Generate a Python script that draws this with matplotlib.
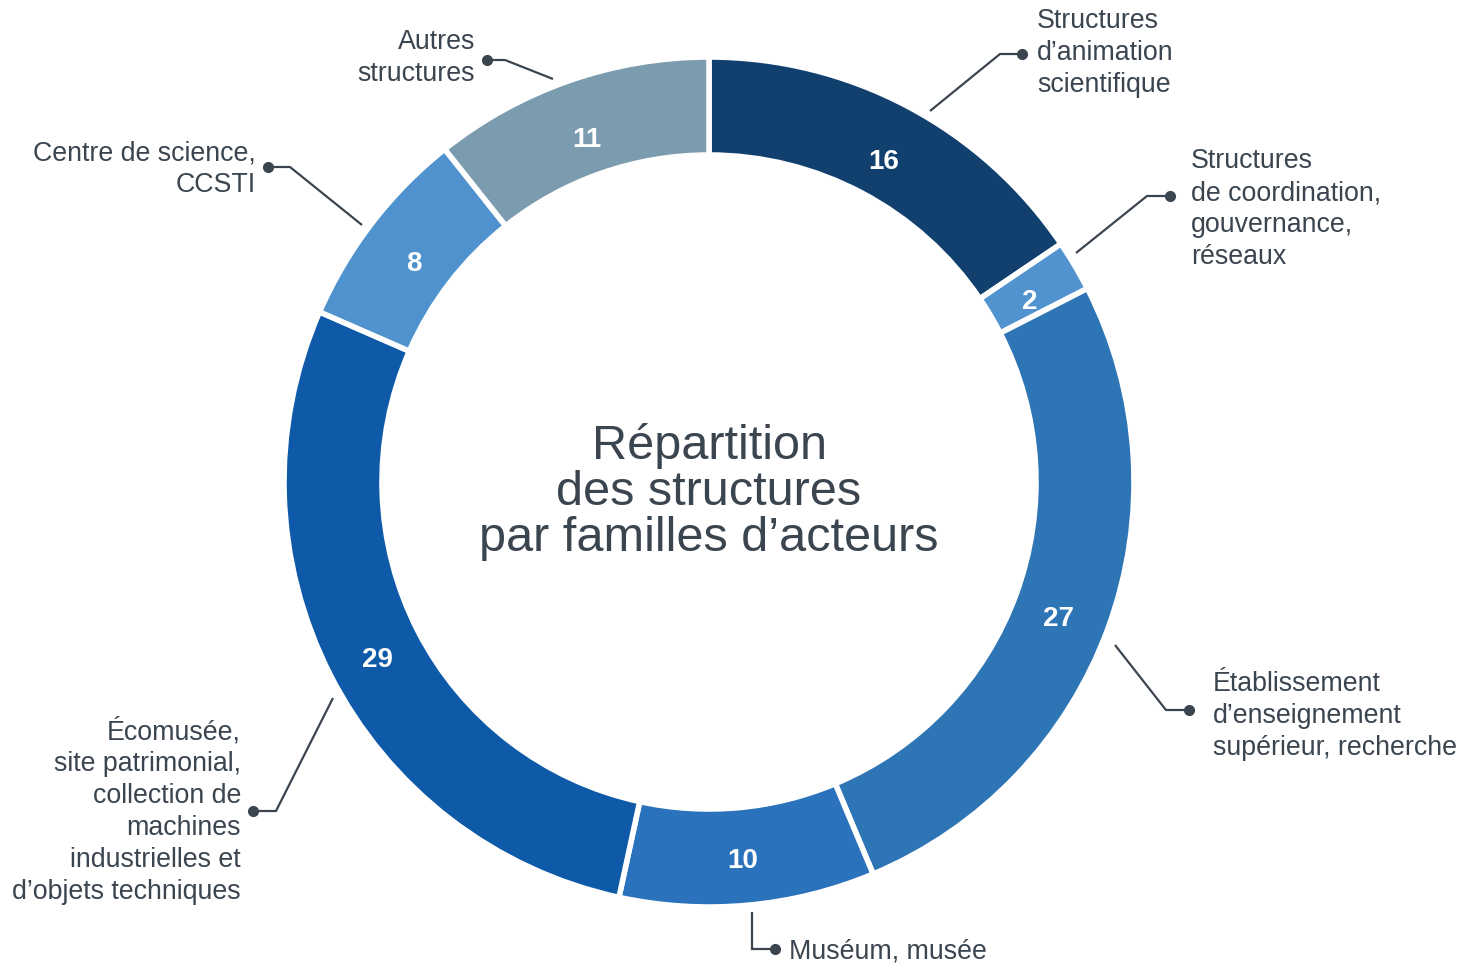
import numpy as np
import matplotlib
matplotlib.use("Agg")
import matplotlib.pyplot as plt

categories = [
    "Structures\nd\u2019animation\nscientifique",
    "Structures\nde coordination,\ngouvernance,\nréseaux",
    "Établissement\nd\u2019enseignement\nsupérieur, recherche",
    "Muséum, musée",
    "Écomusée,\nsite patrimonial,\ncollection de\nmachines\nindustrielles et\nd\u2019objets techniques",
    "Centre de science,\nCCSTI",
    "Autres\nstructures",
]
values = [16, 2, 27, 10, 29, 8, 11]
colors = ["#113f6e", "#5193cf", "#2e75b5", "#2a72bb", "#0e5aa8", "#4f92ce", "#7b9bae"]
center_title = "Répartition\ndes structures\npar familles d\u2019acteurs"

W, H = 1473, 966
TXT = "#3b4550"
plt.rcParams['font.family'] = ['Liberation Sans', 'DejaVu Sans']

fig = plt.figure(figsize=(W / 100, H / 100), dpi=100)
ax = fig.add_axes([0, 0, 1, 1])

cx, cy = 709, H - 482
R, width = 425, 98
total = sum(values)

wedges, _, autotexts = ax.pie(
    values, colors=colors, startangle=90, counterclock=False,
    radius=R, center=(cx, cy),
    wedgeprops=dict(width=width, edgecolor='white', linewidth=4),
    autopct=lambda p: f"{round(p * total / 100):d}",
    pctdistance=372 / R,
    textprops=dict(color='white', fontsize=20, fontweight='bold'),
    frame=True,
)
for t in autotexts:
    x, y = t.get_position()
    t.set_position((x, y - 9))
ax.set_xlim(0, W)
ax.set_ylim(0, H)
ax.set_aspect('equal')
ax.axis('off')

ax.text(cx, H - 492, center_title, ha='center', va='center', fontsize=35,
        color=TXT, linespacing=1.04)

# layout: (start px, elbow px, dot px, text x px, text top-line y px, ha)
layout = [
    ((930, 111), (1000, 54), (1022, 54), 1037, 21, 'left'),
    ((1076, 253), (1147, 196), (1170, 196), 1191, 161, 'left'),
    ((1115, 645), (1166, 710), (1189, 710), 1213, 684, 'left'),
    ((752, 912), (752, 949), (775, 949), 789, 951, 'left'),
    ((333, 698), (276, 811), (253, 811), 241, 732, 'right'),
    ((362, 225), (290, 167), (268, 167), 256, 153, 'right'),
    ((553, 79), (505, 60), (487, 60), 475, 42, 'right'),
]

line_h = 32
for lab, (st, elb, dot, tx, ty, ha) in zip(categories, layout):
    xs = [st[0], elb[0], dot[0]]
    ys = [H - st[1], H - elb[1], H - dot[1]]
    ax.plot(xs, ys, color=TXT, lw=1.6, solid_joinstyle='miter',
            solid_capstyle='butt')
    ax.plot([xs[-1]], [ys[-1]], 'o', color=TXT, ms=7)
    for k, line in enumerate(lab.split("\n")):
        ax.text(tx, H - (ty + k * line_h), line, ha=ha, va='center',
                fontsize=19.3, color=TXT)

fig.savefig("out.png", dpi=100, facecolor='white')
